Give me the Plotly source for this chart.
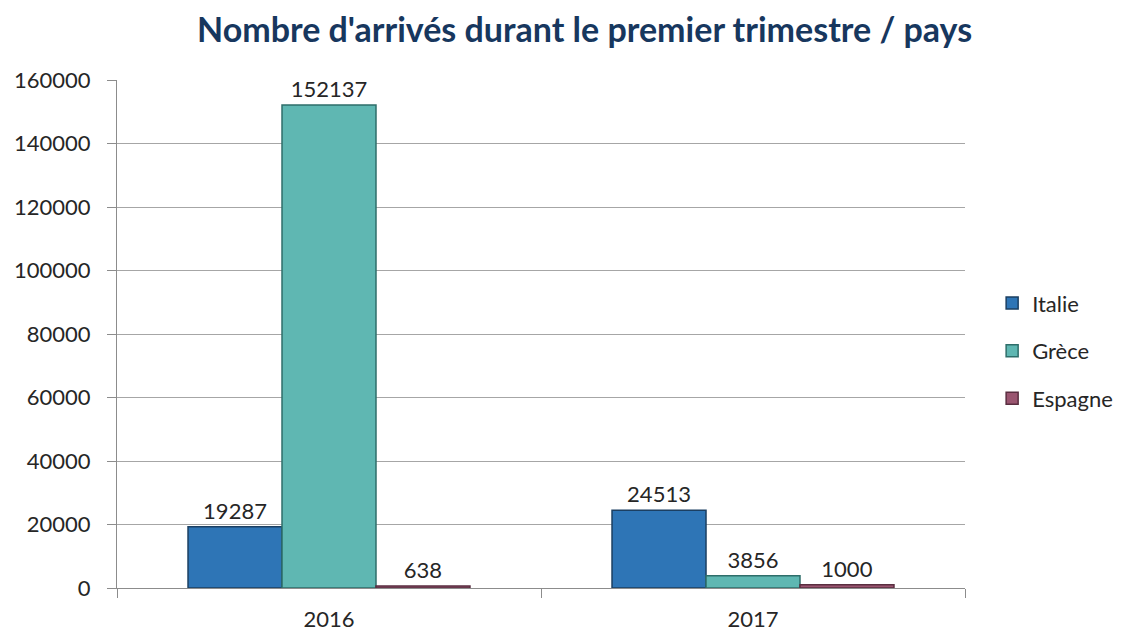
import plotly.graph_objects as go

years = ["2016", "2017"]
series_names = ["Italie", "Grèce", "Espagne"]
italie = [19287, 24513]
grece = [152137, 3856]
espagne = [638, 1000]
colors = ["#2E75B6", "#5FB7B2", "#9A5570"]
line_colors = ["#1B3F62", "#2E6E6A", "#5A2E40"]

fig = go.Figure()
for i, (name, vals) in enumerate(zip(series_names, [italie, grece, espagne])):
    fig.add_trace(go.Bar(
        name=name, x=years, y=vals,
        marker=dict(color=colors[i], line=dict(color=line_colors[i], width=1.5)),
        text=[str(v) for v in vals], textposition="outside",
        textfont=dict(size=22, color="#262626"),
        cliponaxis=False, legendgroup=name,
    ))

fig.update_layout(
    width=1122, height=633,
    paper_bgcolor="white", plot_bgcolor="white",
    font=dict(family="Lato, Carlito, Calibri, sans-serif", size=22, color="#262626"),
    title=dict(text="<b>Nombre d'arrivés durant le premier trimestre / pays</b>",
               x=0.521, xanchor="center", y=0.953, yanchor="middle",
               font=dict(size=34, color="#17375E")),
    barmode="group", bargap=0.335, bargroupgap=0,
    margin=dict(l=117, r=157, t=80, b=45, autoexpand=False),
    legend=dict(x=1.032, xref="paper", xanchor="left", y=0.467, yanchor="middle",
                tracegroupgap=16, font=dict(size=22, color="#262626")),
    xaxis=dict(showline=True, linecolor="#8C8C8C", linewidth=1, automargin=False,
               ticks="outside", tickson="boundaries", ticklen=9, tickcolor="#8C8C8C",
               ticklabelstandoff=12),
    yaxis=dict(range=[0, 160000], dtick=20000, tickformat="d", showgrid=True,
               gridcolor="#A6A6A6", automargin=False,
               showline=True, linecolor="#8C8C8C", linewidth=1,
               ticks="outside", ticklen=9, tickcolor="#8C8C8C",
               ticklabelstandoff=12, zeroline=False),
)

fig.write_html("out.html", config={"displayModeBar": False},
               post_script="document.body.style.margin='0px';")
